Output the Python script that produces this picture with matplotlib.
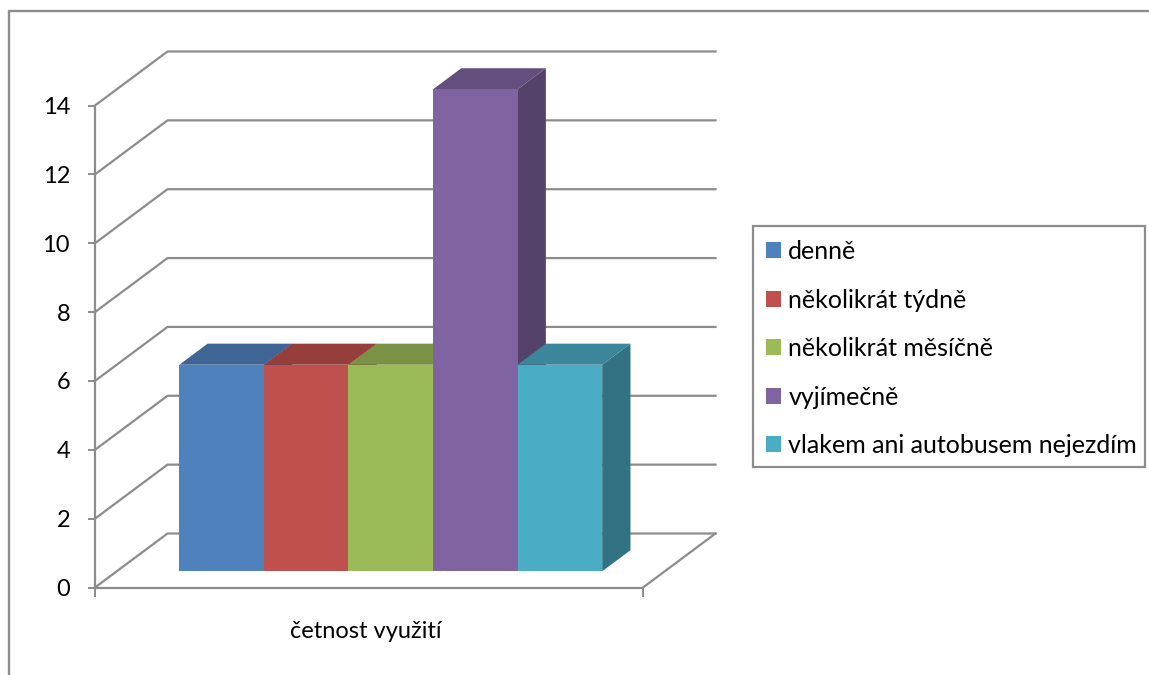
import matplotlib
matplotlib.use('Agg')
import matplotlib.pyplot as plt
from matplotlib.lines import Line2D
from matplotlib.patches import Patch, Polygon, Rectangle
from matplotlib.colors import to_rgb

plt.rcParams['font.family'] = ['Lato', 'DejaVu Sans']

# Donnees du graphique
categories = ['denně', 'několikrát týdně', 'několikrát měsíčně', 'vyjímečně', 'vlakem ani autobusem nejezdím']
values = [6, 6, 6, 14, 6]
colors = ['#4F81BD', '#C0504D', '#9BBB59', '#8064A2', '#4BACC6']
y_ticks = [0, 2, 4, 6, 8, 10, 12, 14]
x_label = 'četnost využití'

GRIS = '#8C8C8C'
W, H = 1149, 675

fig = plt.figure(figsize=(W / 100, H / 100), dpi=100)
ax = fig.add_axes([95 / W, (H - 587.5) / H, 548 / W, 482 / H])
ax.set_xlim(0, 6.48)
ax.set_ylim(0, 14)

# Decalage de la perspective, en unites des axes
depth_x = 72.5 / 548 * 6.48
depth_y = 54 / 482 * 14
gap = 0.74
front, back = 0.3, 0.69


def proj(x, y, d):
    # Projection oblique : d = 0 devant, d = 1 sur le mur du fond
    return (x + d * depth_x, y + d * depth_y)


# Cadre du graphique
fig.add_artist(Line2D([9 / W, 9 / W, 1], [0, 1 - 11 / H, 1 - 11 / H], color=GRIS, lw=1.7))

# Grille sur le mur gauche et le mur du fond
x_end = ax.get_xlim()[1]
for v in y_ticks:
    xs, ys = zip(proj(0, v, 0), proj(0, v, 1), proj(x_end, v, 1))
    ax.plot(xs, ys, color=GRIS, lw=1.6, clip_on=False, zorder=1)

# Bord droit du sol
xs, ys = zip(proj(x_end, 0, 0), proj(x_end, 0, 1))
ax.plot(xs, ys, color=GRIS, lw=1.6, clip_on=False, zorder=1)


def teinte(c, k):
    return tuple(k * i for i in to_rgb(c))


# Barres 3D, de gauche a droite
for i, (v, c) in enumerate(zip(values, colors)):
    x0 = gap + i
    x1 = x0 + 1
    face = [proj(x0, 0, front), proj(x1, 0, front), proj(x1, v, front), proj(x0, v, front)]
    top = [proj(x0, v, front), proj(x1, v, front), proj(x1, v, back), proj(x0, v, back)]
    side = [proj(x1, 0, front), proj(x1, 0, back), proj(x1, v, back), proj(x1, v, front)]
    z = 2 + i
    # antialiased=False pour eviter les coutures claires entre les barres
    ax.add_patch(Polygon(side, closed=True, fc=teinte(c, 0.66), ec='none', clip_on=False, zorder=z))
    ax.add_patch(Polygon(top, closed=True, fc=teinte(c, 0.78), ec='none', clip_on=False, zorder=z))
    ax.add_patch(Polygon(face, closed=True, fc=c, ec='none', clip_on=False, zorder=z, antialiased=False))

# Axes
for s in ['top', 'right']:
    ax.spines[s].set_visible(False)
for s in ['left', 'bottom']:
    ax.spines[s].set_color(GRIS)
    ax.spines[s].set_linewidth(1.6)
ax.patch.set_visible(False)
ax.set_yticks(y_ticks)
ax.set_xticks([0, x_end])
ax.set_xticklabels([])
ax.tick_params(axis='y', length=5, width=1.4, color=GRIS, pad=13, labelsize=17, labelcolor='black')
ax.tick_params(axis='x', length=6.5, width=1.4, color=GRIS)
ax.text(366 / W, 1 - 631 / H, x_label, transform=fig.transFigure, fontsize=17, ha='center', va='center')

# Legende : cadre a part, le texte n'est pas centre dans la boite
fig.add_artist(Rectangle((753 / W, 1 - 467 / H), 392 / W, 241 / H, transform=fig.transFigure,
                         fc='none', ec=GRIS, lw=1.6))
handles = [Patch(fc=c, ec='none', label=n) for c, n in zip(colors, categories)]
ax.legend(handles=handles, loc='upper left', bbox_to_anchor=(766 / W, 1 - 240 / H),
          bbox_transform=fig.transFigure, fontsize=18, frameon=False, borderaxespad=0,
          borderpad=0, handlelength=0.6, handleheight=0.6, handletextpad=0.29, labelspacing=1.02)

fig.savefig('out.png', dpi=100)
